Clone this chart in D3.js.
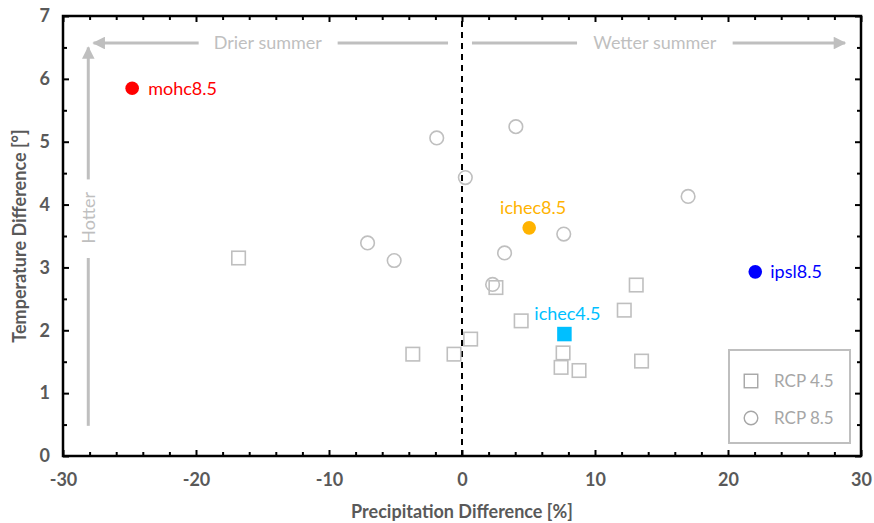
<!DOCTYPE html>
<html>
<head>
<meta charset="utf-8">
<script src="https://cdn.jsdelivr.net/npm/d3@7"></script>
<style>
  html, body { margin: 0; padding: 0; background: #fff; }
  svg { display: block; font-family: Lato, "Open Sans", sans-serif; }
</style>
</head>
<body>
<svg id="chart" width="874" height="523"></svg>
<script>
// Precipitation (%) vs temperature (°C) change per model run
const rcp45Precip = [-16.8, -3.7, -0.6, 0.65, 2.55, 4.45, 7.6, 7.45, 8.8, 13.1, 12.2, 13.5];
const rcp45Temp   = [3.15, 1.62, 1.62, 1.86, 2.68, 2.15, 1.64, 1.41, 1.36, 2.72, 2.32, 1.51];

const rcp85Precip = [-1.9, 4.05, 0.25, -7.1, -5.1, 17.0, 7.65, 3.2, 2.3];
const rcp85Temp   = [5.06, 5.24, 4.43, 3.39, 3.11, 4.13, 3.53, 3.23, 2.73];

const highlightNames  = ["mohc8.5", "ichec8.5", "ichec4.5", "ipsl8.5"];
const highlightPrecip = [-24.8, 5.05, 7.7, 22.05];
const highlightTemp   = [5.85, 3.63, 1.94, 2.93];
const highlightShape  = ["circle", "circle", "square", "circle"];
const highlightColor  = ["#ff0000", "#ffb300", "#00bfff", "#0000ff"];

const xTicks = [-30, -20, -10, 0, 10, 20, 30];
const yTicks = [0, 1, 2, 3, 4, 5, 6, 7];
const legendLabels = ["RCP 4.5", "RCP 8.5"];

const svg = d3.select("#chart");
const margin = { left: 63, right: 13, top: 16, bottom: 67 };
const W = 874, H = 523;
const x = d3.scaleLinear().domain([-30, 30]).range([margin.left, W - margin.right]);
const y = d3.scaleLinear().domain([0, 7]).range([H - margin.bottom, margin.top]);

const axisGray = "#595959";
const annoGray = "#bfbfbf";
const markGray = "#bfbfbf";
const fs = 18;

// Zero-precipitation reference line
svg.append("line")
  .attr("x1", x(0)).attr("x2", x(0))
  .attr("y1", y(0)).attr("y2", y(7))
  .attr("stroke", "#000").attr("stroke-width", 2)
  .attr("stroke-dasharray", "6,5");

// Direction arrows
const defs = svg.append("defs");
defs.append("marker")
  .attr("id", "head")
  .attr("viewBox", "0 0 10 10")
  .attr("refX", 9).attr("refY", 5)
  .attr("markerWidth", 4.6).attr("markerHeight", 4.2)
  .attr("markerUnits", "strokeWidth")
  .attr("orient", "auto")
  .append("path").attr("d", "M0,0 L10,5 L0,10 Z").attr("fill", annoGray);

const arrowY = 6.57;
function seg(x1, y1, x2, y2, head) {
  const l = svg.append("line")
    .attr("x1", x(x1)).attr("y1", y(y1)).attr("x2", x(x2)).attr("y2", y(y2))
    .attr("stroke", annoGray).attr("stroke-width", 3);
  if (head) l.attr("marker-end", "url(#head)");
}
// Drier: line pieces either side of its label
seg(-1.05, arrowY, -9.35, arrowY, false);
seg(-19.8, arrowY, -27.7, arrowY, true);
// Wetter
seg(0.75, arrowY, 8.65, arrowY, false);
seg(20.35, arrowY, 28.8, arrowY, true);
// Hotter
seg(-28.1, 0.48, -28.1, 3.15, false);
seg(-28.1, 4.4, -28.1, 6.5, true);

svg.append("text").attr("x", x(-14.6)).attr("y", y(arrowY)).attr("dy", "0.35em")
  .attr("text-anchor", "middle").attr("font-size", fs).attr("fill", annoGray)
  .text("Drier summer");
svg.append("text").attr("x", x(14.5)).attr("y", y(arrowY)).attr("dy", "0.35em")
  .attr("text-anchor", "middle").attr("font-size", fs).attr("fill", annoGray)
  .text("Wetter summer");
svg.append("text")
  .attr("transform", `translate(${x(-28.1)},${y(3.79)}) rotate(-90)`)
  .attr("dy", "0.35em")
  .attr("text-anchor", "middle").attr("font-size", fs).attr("fill", annoGray)
  .text("Hotter");

// Axes: boxed frame with inward ticks on all four sides
function minor(lo, hi, step) {
  const out = [];
  for (let v = lo; v <= hi + 1e-9; v += step) out.push(+v.toFixed(3));
  return out;
}
const xMinor = minor(-30, 30, 2).filter(v => !xTicks.includes(v));
const yMinor = minor(0, 7, 0.5).filter(v => !yTicks.includes(v));

function frameAxis(axisFn, scale, transform, major, minorVals, showLabels, pad) {
  const gMin = svg.append("g").attr("transform", transform)
    .call(axisFn(scale).tickValues(minorVals).tickSize(-4).tickFormat(""));
  gMin.select(".domain").remove();
  gMin.selectAll(".tick line").attr("stroke", "#000").attr("stroke-width", 2);
  const g = svg.append("g").attr("transform", transform)
    .call(axisFn(scale).tickValues(major).tickSize(-6).tickSizeOuter(0)
      .tickPadding(pad).tickFormat(showLabels ? (d => String(d)) : ""));
  g.select(".domain").remove();
  g.selectAll(".tick line").attr("stroke", "#000").attr("stroke-width", 2);
  g.selectAll(".tick text").attr("font-size", fs).attr("font-weight", "bold")
    .attr("fill", axisGray).attr("font-family", "Lato, 'Open Sans', sans-serif");
  return g;
}
frameAxis(d3.axisBottom, x, `translate(0,${y(0)})`, xTicks, xMinor, true, 14)
  .selectAll(".tick text").attr("dy", "0.9em");
frameAxis(d3.axisTop, x, `translate(0,${y(7)})`, xTicks, xMinor, false, 14);
frameAxis(d3.axisLeft, y, `translate(${x(-30)},0)`, yTicks, yMinor, true, 13);
frameAxis(d3.axisRight, y, `translate(${x(30)},0)`, yTicks, yMinor, false, 14);

svg.append("rect")
  .attr("x", x(-30)).attr("y", y(7))
  .attr("width", x(30) - x(-30)).attr("height", y(0) - y(7))
  .attr("fill", "none").attr("stroke", "#000").attr("stroke-width", 2.5);

// Axis titles
svg.append("text")
  .attr("x", (x(-30) + x(30)) / 2).attr("y", 518)
  .attr("text-anchor", "middle").attr("font-size", fs).attr("font-weight", "bold")
  .attr("fill", axisGray).text("Precipitation Difference [%]");
svg.append("text")
  .attr("transform", `translate(20,${(y(0) + y(7)) / 2}) rotate(-90)`)
  .attr("dy", "0.35em")
  .attr("text-anchor", "middle").attr("font-size", fs).attr("font-weight", "bold")
  .attr("fill", axisGray).text("Temperature Difference [°]");

// Ensemble members
const sq = 13.5, rad = 6.8;
svg.append("g").selectAll("rect")
  .data(d3.zip(rcp45Precip, rcp45Temp)).join("rect")
  .attr("x", d => x(d[0]) - sq / 2).attr("y", d => y(d[1]) - sq / 2)
  .attr("width", sq).attr("height", sq)
  .attr("fill", "#fff").attr("stroke", markGray).attr("stroke-width", 1.6);
svg.append("g").selectAll("circle")
  .data(d3.zip(rcp85Precip, rcp85Temp)).join("circle")
  .attr("cx", d => x(d[0])).attr("cy", d => y(d[1])).attr("r", rad)
  .attr("fill", "none").attr("stroke", markGray).attr("stroke-width", 1.6);

// Highlighted runs with their labels
const hl = highlightNames.map((n, i) => ({
  name: n, px: highlightPrecip[i], t: highlightTemp[i],
  shape: highlightShape[i], color: highlightColor[i]
}));
const hg = svg.append("g");
hl.forEach(d => {
  if (d.shape === "square") {
    hg.append("rect")
      .attr("x", x(d.px) - sq / 2 - 0.5).attr("y", y(d.t) - sq / 2 - 0.5)
      .attr("width", sq + 1).attr("height", sq + 1).attr("fill", d.color);
  } else {
    hg.append("circle").attr("cx", x(d.px)).attr("cy", y(d.t)).attr("r", rad)
      .attr("fill", d.color);
  }
});
const labelPos = {
  "mohc8.5":  { dx: 16, dy: 0, anchor: "start" },
  "ipsl8.5":  { dx: 15, dy: 0, anchor: "start" },
  "ichec8.5": { dx: 4, dy: -20, anchor: "middle" },
  "ichec4.5": { dx: 3, dy: -20, anchor: "middle" }
};
hl.forEach(d => {
  const p = labelPos[d.name];
  hg.append("text")
    .attr("x", x(d.px) + p.dx).attr("y", y(d.t) + p.dy).attr("dy", "0.35em")
    .attr("text-anchor", p.anchor).attr("font-size", fs).attr("fill", d.color)
    .text(d.name);
});

// Legend
const lg = svg.append("g").attr("transform", "translate(729,350)");
lg.append("rect").attr("width", 121).attr("height", 93)
  .attr("fill", "#fff").attr("stroke", annoGray).attr("stroke-width", 2);
lg.append("rect").attr("x", 22 - sq / 2).attr("y", 31 - sq / 2)
  .attr("width", sq).attr("height", sq)
  .attr("fill", "none").attr("stroke", "#a6a6a6").attr("stroke-width", 1.4);
lg.append("circle").attr("cx", 22).attr("cy", 68).attr("r", rad)
  .attr("fill", "none").attr("stroke", "#a6a6a6").attr("stroke-width", 1.4);
lg.selectAll("text.lbl").data(legendLabels).join("text").attr("class", "lbl")
  .attr("x", 45).attr("y", (d, i) => i === 0 ? 31 : 68).attr("dy", "0.35em")
  .attr("font-size", 17).attr("fill", "#a6a6a6").text(d => d);
</script>
</body>
</html>
